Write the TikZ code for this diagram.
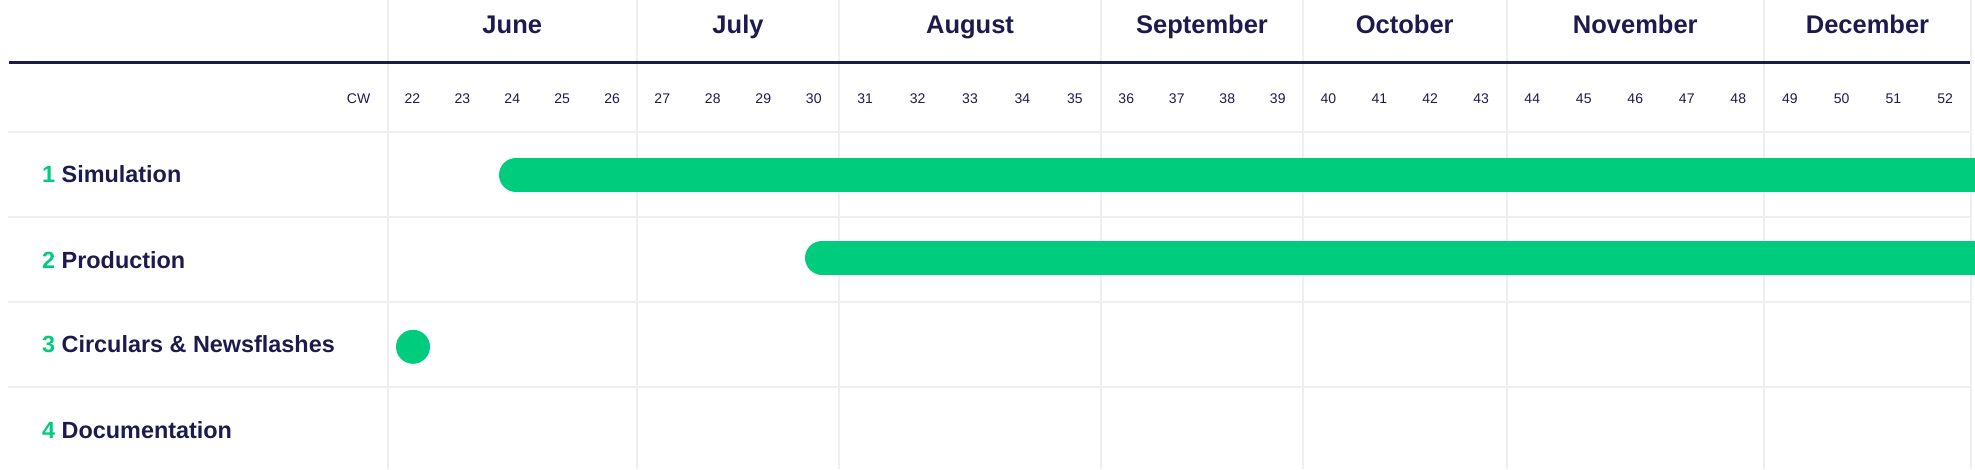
\documentclass[tikz,border=0pt]{standalone}
\usepackage{fontspec}
\setmainfont{Liberation Sans}
\usetikzlibrary{positioning}
\definecolor{navy}{HTML}{1E1A4D}
\definecolor{mint}{HTML}{00CC7E}
\definecolor{gridgray}{HTML}{EFEFF2}
\tikzset{
  month/.style={font=\fontsize{25.5}{30}\selectfont\bfseries, text=navy, anchor=base, inner sep=0pt},
  week/.style={font=\fontsize{14}{17}\selectfont, text=navy, anchor=base, inner sep=0pt},
  task/.style={font=\fontsize{23.4}{28}\selectfont\bfseries, text=navy, anchor=base west, inner sep=0pt},
  rule/.style={draw=gridgray, line width=2pt},
  bar/.style={draw=mint, line width=34pt, line cap=round},
  milestone/.style={circle, fill=mint, minimum size=34pt, inner sep=0pt},
}

\begin{document}
\begin{tikzpicture}[x=1pt, y=-1pt]
  \useasboundingbox (0,0) rectangle (1975,469);
  \clip (0,0) rectangle (1975,469);
  \foreach \x in {387.5,637,839,1101,1303,1506.5,1764,1971}
    \draw[rule] (\x,0) -- (\x,469);
  \foreach \y in {131.7,216.7,302.3,387}
    \draw[rule] (8,\y) -- (1971,\y);
  \draw[navy, line width=2.5pt] (9,62.7) -- (1970,62.7);
  \foreach \mo/\xa/\xb/\wa/\wb in {June/387.5/637/22/26, July/637/839/27/30,
      August/839/1101/31/35, September/1101/1303/36/39, October/1303/1506.5/40/43,
      November/1506.5/1764/44/48, December/1764/1971/49/52}{
    \node[month] (\mo) at ({(\xa+\xb)/2},33.7) {\mo};
    \pgfmathsetmacro\colw{(\xb-\xa)/(\wb-\wa+1)}
    \foreach \k in {\wa,...,\wb}
      \node[week] (w\k) at ({\xa+(\k-\wa+0.5)*\colw},103.3) {\k};
  }
  \node[week, anchor=base east] (cw) at (370.5,103.3) {CW};
  \node[task] (t1) at (42,182.7) {\textcolor{mint}{1} Simulation};
  \node[task] (t2) at (42,268.3) {\textcolor{mint}{2} Production};
  \node[task] (t3) at (42,352.7) {\textcolor{mint}{3} Circulars \& Newsflashes};
  \node[task] (t4) at (42,438.3) {\textcolor{mint}{4} Documentation};
  \coordinate (s1) at (516,174.8);
  \coordinate (e1) at (2000,174.8);
  \coordinate (s2) at (822,257.7);
  \coordinate (e2) at (2000,257.7);
  \draw[bar] (s1) -- (e1);
  \draw[bar] (s2) -- (e2);
  \node[milestone] (d3) at (413,346.8) {};
\end{tikzpicture}
\end{document}
